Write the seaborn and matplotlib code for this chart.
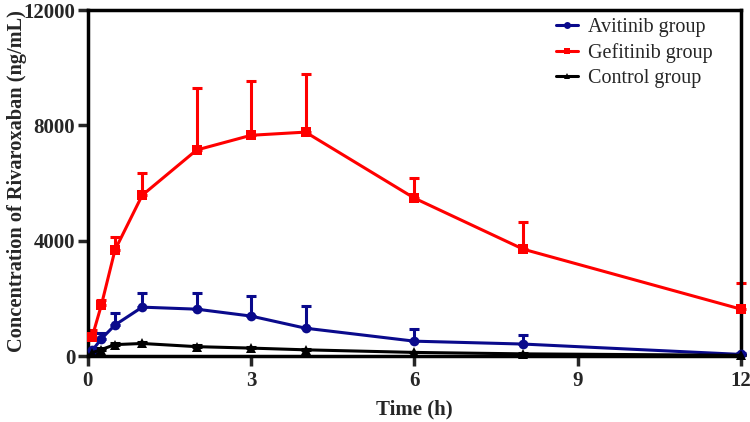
import numpy as np
import pandas as pd
import matplotlib
matplotlib.use("Agg")
import matplotlib.pyplot as plt
import seaborn as sns

sns.set_style("ticks")
plt.rcParams['font.family'] = ['Liberation Serif', 'DejaVu Serif']

time_h = [0.083, 0.25, 0.5, 1, 2, 3, 4, 6, 8, 12]
groups = ["Avitinib group", "Gefitinib group", "Control group"]
avitinib_mean = [200, 600, 1080, 1700, 1630, 1390, 970, 520, 420, 60]
avitinib_sd = [100, 200, 420, 500, 570, 710, 780, 410, 310, 40]
gefitinib_mean = [680, 1770, 3680, 5580, 7150, 7660, 7770, 5480, 3710, 1630]
gefitinib_sd = [220, 180, 450, 770, 2150, 1880, 2010, 690, 940, 900]
control_mean = [120, 230, 400, 440, 330, 280, 220, 130, 80, 30]
control_sd = [30, 40, 50, 60, 40, 40, 30, 20, 15, 10]

colors = {"Avitinib group": "#0a0a8c", "Gefitinib group": "#ff0000", "Control group": "#000000"}
markers = {"Avitinib group": "o", "Gefitinib group": "s", "Control group": "^"}

means = [avitinib_mean, gefitinib_mean, control_mean]
sds = [avitinib_sd, gefitinib_sd, control_sd]
df = pd.concat([pd.DataFrame({"Time": time_h, "Conc": m, "SD": s, "Group": g})
                for g, m, s in zip(groups, means, sds)], ignore_index=True)

fig = plt.figure(figsize=(7.5, 4.22), dpi=100)
ax = fig.add_axes([0.117, 0.156, 0.871, 0.820])

for g in groups:
    d = df[df.Group == g]
    ax.errorbar(d.Time, d.Conc, yerr=[np.zeros(len(d)), d.SD], fmt="none",
                ecolor=colors[g], elinewidth=2.2, capsize=3.5, capthick=2.2,
                clip_on=False, zorder=2)

sns.lineplot(data=df, x="Time", y="Conc", hue="Group", style="Group",
             hue_order=groups, style_order=groups, palette=colors, markers=markers,
             dashes=False, linewidth=2.2, markersize=7, markeredgewidth=0,
             ax=ax, clip_on=False, zorder=3)

ax.set_xlim(0, 12)
ax.set_ylim(0, 12000)
ax.set_xticks([0, 3, 6, 9, 12])
ax.set_yticks([0, 4000, 8000, 12000])
for sp in ax.spines.values():
    sp.set_linewidth(2.5)
    sp.set_color("black")
ax.tick_params(axis="both", width=2.5, length=7, direction="out",
               labelsize=15, pad=2)
ax.tick_params(axis="x", pad=4)
for lab in ax.get_xticklabels() + ax.get_yticklabels():
    lab.set_fontweight("bold")
ax.set_xlabel("Time (h)", fontsize=15, fontweight="bold", labelpad=6)
ax.set_ylabel("Concentration of Rivaroxaban (ng/mL)", fontsize=14.7, fontweight="bold")
ax.yaxis.set_label_coords(-0.093, 0.505)

h, l = ax.get_legend_handles_labels()
for hh in h:
    hh.set_markersize(5)
leg = ax.legend(h, l, loc="upper right", frameon=False, fontsize=14.5,
                handlelength=1.1, handletextpad=0.5, borderaxespad=0.0,
                labelspacing=0.3, bbox_to_anchor=(0.969, 1.0))

fig.savefig("out.png", dpi=100)
